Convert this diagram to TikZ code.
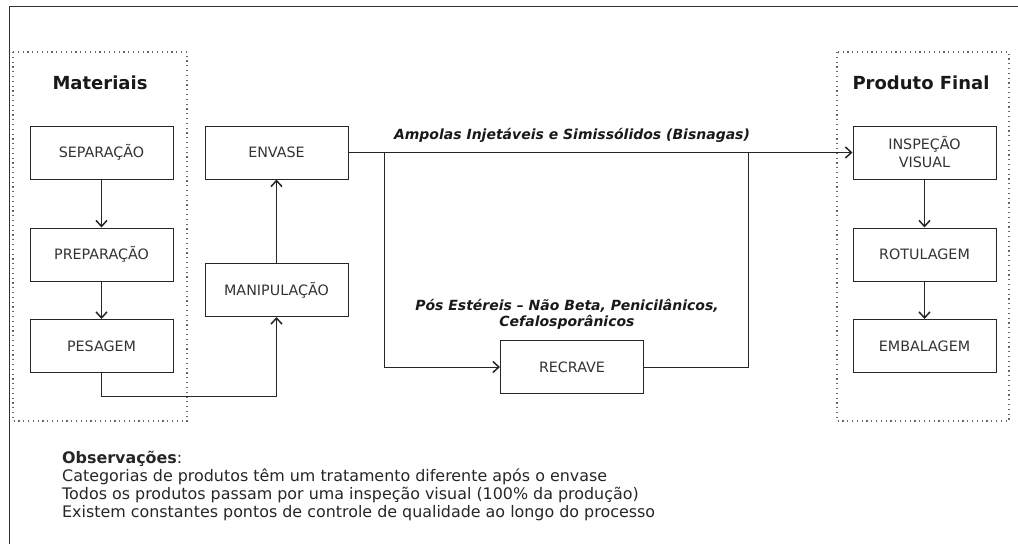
\documentclass[tikz,border=0pt]{standalone}
\usepackage{fontspec}
\setmainfont{DejaVu Sans}
\usetikzlibrary{arrows.meta}

\begin{document}
\begin{tikzpicture}[x=1pt,y=-1pt,
  procbox/.style={draw=black!85, line width=1pt, minimum width=143pt, minimum height=53pt,
    inner sep=2pt, align=center, font=\fontsize{14.3}{18}\selectfont, text=black!80},
  grouptitle/.style={font=\fontsize{18}{21}\selectfont\bfseries, text=black!90},
  flowlabel/.style={font=\fontsize{14}{16}\selectfont\bfseries\itshape, align=center, text=black!90},
  groupframe/.style={draw=black!60, line width=1.2pt, dash pattern=on 1.2pt off 3.6pt},
  link/.style={draw=black!85, line width=1pt},
  flow/.style={link, -{Straight Barb[length=6pt,width=11pt,line width=1.5pt]}}]
  \useasboundingbox (0,0) rectangle (1018,544);

  % Outer frame (only top and left edges are visible)
  \draw[draw=black!80, line width=1pt] (1018,6) -- (9,6) -- (9,544);

  % Dotted groups
  \draw[groupframe] (13,52) rectangle (187,421);
  \draw[groupframe] (837,52) rectangle (1009,421);
  \node[grouptitle] (tmat) at (100,83) {Materiais};
  \node[grouptitle] (tfin) at (921,83) {Produto Final};

  % Process steps
  \node[procbox] (sep)   at (101.5,152.5) {SEPARAÇÃO};
  \node[procbox] (prep)  at (101.5,254.5) {PREPARAÇÃO};
  \node[procbox] (pes)   at (101.5,346)   {PESAGEM};
  \node[procbox] (env)   at (276.5,152.5) {ENVASE};
  \node[procbox] (manip) at (276.5,290)   {MANIPULAÇÃO};
  \node[procbox] (recr)  at (572,367)     {RECRAVE};
  \node[procbox] (insp)  at (924.5,152.5) {INSPEÇÃO\\VISUAL};
  \node[procbox] (rot)   at (924.5,254.5) {ROTULAGEM};
  \node[procbox] (emb)   at (924.5,346)   {EMBALAGEM};

  % Branch points
  \coordinate (split) at (384,152.5);
  \coordinate (join)  at (748,152.5);

  % Connectors
  \draw[flow] (sep) -- (prep);
  \draw[flow] (prep) -- (pes);
  \draw[flow] (pes.south) |- (190,396.5) -| (manip.south);
  \draw[flow] (manip) -- (env);
  \draw[flow] (env.east) -- (insp.west);
  \draw[flow] (split) |- (recr.west);
  \draw[link] (recr.east) -| (join);
  \draw[flow] (insp) -- (rot);
  \draw[flow] (rot) -- (emb);

  % Branch labels
  \node[flowlabel] (lamp) at (572,135) {Ampolas Injetáveis e Simissólidos (Bisnagas)};
  \node[flowlabel] (lpos) at (567,314) {Pós Estéreis – Não Beta, Penicilânicos,\\Cefalosporânicos};

  % Notes
  \node[anchor=north west, align=left, font=\fontsize{15.9}{17.9}\selectfont, text=black!85, inner sep=0pt]
    (obs) at (62,451) {\textbf{Observações}:\\
    Categorias de produtos têm um tratamento diferente após o envase\\
    Todos os produtos passam por uma inspeção visual (100\% da produção)\\
    Existem constantes pontos de controle de qualidade ao longo do processo};
\end{tikzpicture}
\end{document}
